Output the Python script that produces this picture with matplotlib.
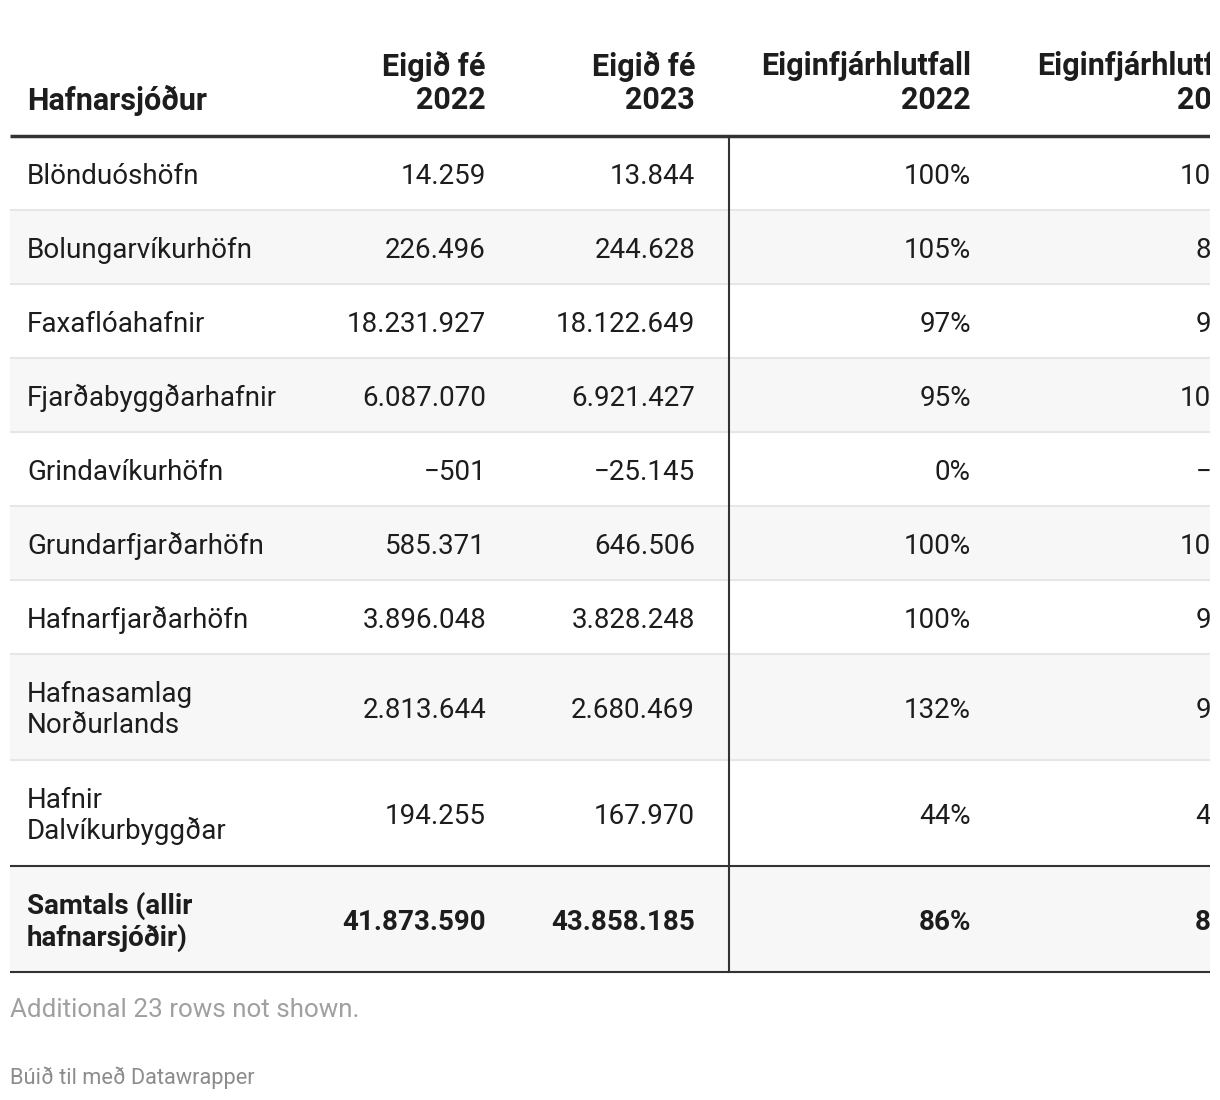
import matplotlib.pyplot as plt
from matplotlib.patches import Rectangle

plt.rcParams['font.family'] = ['Roboto', 'DejaVu Sans']

# data
headers = ["Hafnarsjóður", "Eigið fé\n2022", "Eigið fé\n2023",
           "Eiginfjárhlutfall\n2022", "Eiginfjárhlutfall\n2023"]
names = ["Blönduóshöfn", "Bolungarvíkurhöfn", "Faxaflóahafnir", "Fjarðabyggðarhafnir",
         "Grindavíkurhöfn", "Grundarfjarðarhöfn", "Hafnarfjarðarhöfn",
         "Hafnasamlag\nNorðurlands", "Hafnir\nDalvíkurbyggðar"]
equity_2022 = [14259, 226496, 18231927, 6087070, -501, 585371, 3896048, 2813644, 194255]
equity_2023 = [13844, 244628, 18122649, 6921427, -25145, 646506, 3828248, 2680469, 167970]
ratio_2022 = ["100%", "105%", "97%", "95%", "0%", "100%", "100%", "132%", "44%"]
ratio_2023 = ["100%", "89%", "96%", "100%", "\u22123%", "100%", "98%", "97%", "43%"]
total_name = "Samtals (allir\nhafnarsjóðir)"
total_2022 = 41873590
total_2023 = 43858185
total_ratio_2022 = "86%"
total_ratio_2023 = "87%"
footnote = "Additional 23 rows not shown."
credit = "Búið til með Datawrapper"


def fmt(v):
    s = f"{abs(v):,}".replace(",", ".")
    return ("\u2212" + s) if v < 0 else s


fig = plt.figure(figsize=(12.2, 11), dpi=100)
ax = fig.add_axes([0, 0, 1210 / 1220, 1])
ax.set_xlim(0, 1210)
ax.set_ylim(1100, 0)
ax.axis('off')

fs = 20
hfs = 22
txt = '#1d1d1d'
left, right = 10, 1210
col_x = [27, 486, 695, 971, 1247]
dy = 3

# header
ax.text(col_x[0], 99 + 1, headers[0], ha='left', va='center', fontsize=hfs, fontweight='bold', color=txt)
for x, h in zip(col_x[1:], headers[1:]):
    ax.text(x, 82 + 1, h, ha='right', va='center', fontsize=hfs, fontweight='bold',
            color=txt, linespacing=1.15, clip_on=True)

top = 136
ax.plot([left, right], [top, top], color='#333333', lw=2.5, solid_capstyle='butt')

y = top
rows = list(zip(names, equity_2022, equity_2023, ratio_2022, ratio_2023))
for i, (n, a, b, r1, r2) in enumerate(rows):
    h = 74 if "\n" not in n else 106
    if i % 2 == 1:
        ax.add_patch(Rectangle((left, y), right - left, h, color='#f7f7f7', lw=0))
    cy = y + h / 2 + dy
    ax.text(col_x[0], cy, n, ha='left', va='center', fontsize=fs, color=txt, linespacing=1.15)
    for x, v in zip(col_x[1:], [fmt(a), fmt(b), r1, r2]):
        ax.text(x, cy, v, ha='right', va='center', fontsize=fs, color=txt, clip_on=True)
    y += h
    if i < len(rows) - 1:
        ax.plot([left, right], [y, y], color='#e6e6e6', lw=1.5, solid_capstyle='butt')

ax.plot([left, right], [y, y], color='#333333', lw=1.5, solid_capstyle='butt')
h = 106
ax.add_patch(Rectangle((left, y), right - left, h, color='#f7f7f7', lw=0))
cy = y + h / 2 + dy
ax.text(col_x[0], cy, total_name, ha='left', va='center', fontsize=fs, fontweight='bold',
        color=txt, linespacing=1.15)
for x, v in zip(col_x[1:], [fmt(total_2022), fmt(total_2023), total_ratio_2022, total_ratio_2023]):
    ax.text(x, cy, v, ha='right', va='center', fontsize=fs, fontweight='bold', color=txt, clip_on=True)
y += h
ax.plot([left, right], [y, y], color='#333333', lw=1.5, solid_capstyle='butt')

# vertical divider
ax.plot([729, 729], [top, y], color='#333333', lw=1.5)

ax.text(left, 1010, footnote, ha='left', va='center', fontsize=18.7, color='#a0a0a0')
ax.text(left, 1078, credit, ha='left', va='center', fontsize=15.7, color='#8c8c8c')

fig.savefig('out.png', dpi=100, facecolor='white')
